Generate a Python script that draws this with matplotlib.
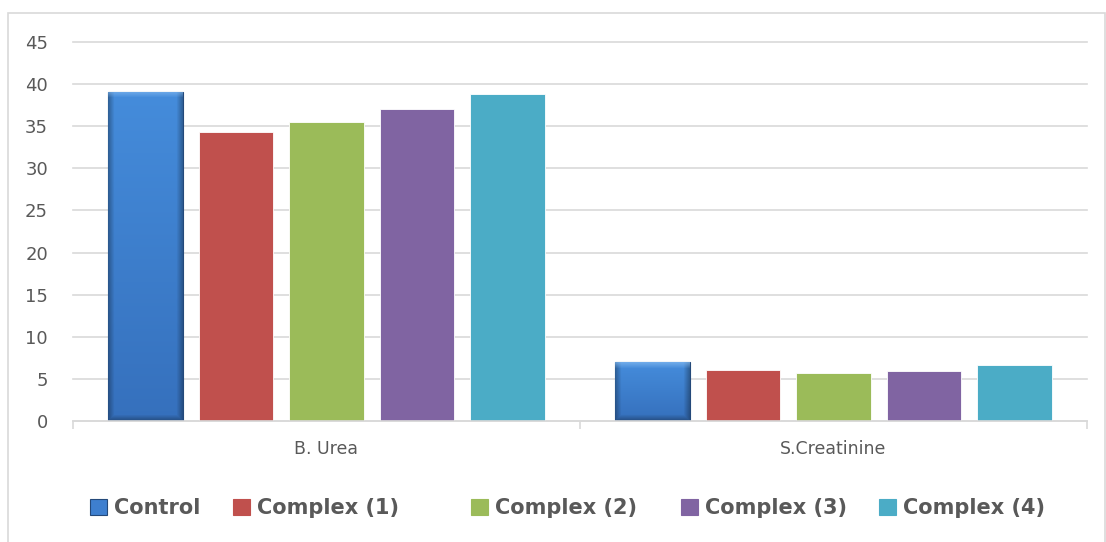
import numpy as np
import matplotlib.pyplot as plt
from matplotlib.patches import Patch, Rectangle

categories = ["B. Urea", "S.Creatinine"]
groups = ["Control", "Complex (1)", "Complex (2)", "Complex (3)", "Complex (4)"]
control = [39.1, 7.0]
complex_1 = [34.3, 6.1]
complex_2 = [35.5, 5.7]
complex_3 = [37.0, 5.9]
complex_4 = [38.8, 6.6]
yticks = [0, 5, 10, 15, 20, 25, 30, 35, 40, 45]

series = [control, complex_1, complex_2, complex_3, complex_4]
colors = ["#3E7FCF", "#C0504D", "#9BBB59", "#8064A2", "#4BACC6"]
text_grey = "#595959"
grid_grey = "#D9D9D9"

W, H = 1106, 542
fig = plt.figure(figsize=(W / 100, H / 100), dpi=100)
ax = fig.add_axes([73 / W, 1 - 421 / H, (1087 - 73) / W, (421 - 42) / H])

x = np.arange(len(categories))
step = 0.1785
width = 0.146


def bevel_image(w_px, h_px):
    # vertical shading from light top to darker bottom, darker sides, bright top rim
    yy, xx = np.mgrid[0:h_px, 0:w_px]
    t = yy / max(h_px - 1, 1)
    top = np.array([0.27, 0.55, 0.86])
    bot = np.array([0.21, 0.44, 0.74])
    img = top[None, None, :] * (1 - t[..., None]) + bot[None, None, :] * t[..., None]
    b = 6.0
    d_side = np.minimum(xx, w_px - 1 - xx)
    d_bottom = h_px - 1 - yy
    side = np.clip(1 - d_side / b, 0, 1)
    bottom = np.clip(1 - d_bottom / b, 0, 1)
    topr = np.clip(1 - yy / b, 0, 1)
    img = img * (1 - 0.3 * np.maximum(side, bottom)[..., None])
    light = np.array([0.55, 0.75, 0.95])
    img = img * (1 - 0.6 * topr[..., None]) + light * 0.6 * topr[..., None]
    return np.clip(img, 0, 1)


for i, (vals, col) in enumerate(zip(series, colors)):
    pos = x + (i - 2) * step
    if i == 0:
        bars = ax.bar(pos, vals, width, color=col, edgecolor="#24497A",
                      linewidth=0.8, zorder=3, label=groups[i])
        for bar, v in zip(bars, vals):
            x0 = bar.get_x()
            img = bevel_image(74, max(int(v * 8.42), 10))
            im = ax.imshow(img, extent=(x0, x0 + width, 0, v), aspect="auto",
                           origin="upper", zorder=3.5, interpolation="bilinear")
            im.set_clip_path(bar)
    else:
        ax.bar(pos, vals, width, color=col, edgecolor="white", linewidth=0.6,
               zorder=3, label=groups[i])

ax.set_xlim(-0.5, 1.5)
ax.set_ylim(0, 45)
ax.set_yticks(yticks)
ax.yaxis.grid(True, color=grid_grey, linewidth=1.2, zorder=0)
for gl in ax.get_ygridlines():
    gl.set_clip_on(False)
ax.set_axisbelow(True)
for side in ["top", "right", "left"]:
    ax.spines[side].set_visible(False)
ax.spines["bottom"].set_color(grid_grey)
ax.spines["bottom"].set_linewidth(1.2)
ax.spines["bottom"].set_zorder(4)

ax.set_xticks(x)
ax.set_xticklabels(categories)
ax.set_xticks([-0.5, 0.5, 1.5], minor=True)
ax.tick_params(axis="x", which="major", length=0, pad=14, labelsize=12.5,
               labelcolor=text_grey)
ax.tick_params(axis="x", which="minor", length=6, color=grid_grey, width=1.2)
ax.tick_params(axis="y", length=0, pad=18, labelsize=13, labelcolor=text_grey)

# outer chart border
fig.patches.append(Rectangle((8 / W, -0.01), (1105 - 8) / W, 1 - 13 / H + 0.01,
                             transform=fig.transFigure, fill=False,
                             edgecolor=grid_grey, linewidth=1.2))

# legend entries, placed one by one along the bottom
legend_x = [90, 233, 471, 681, 879]
for lx, g, col in zip(legend_x, groups, colors):
    handle = Patch(facecolor=col, edgecolor="#24497A" if g == "Control" else col,
                   linewidth=0.8)
    leg = fig.legend([handle], [g], loc="center left",
                     bbox_to_anchor=(lx / W, 1 - 508 / H), frameon=False,
                     borderpad=0, borderaxespad=0, handlelength=0.8,
                     handleheight=0.8, handletextpad=0.35,
                     prop={"weight": "bold", "size": 15})
    for t in leg.get_texts():
        t.set_color(text_grey)

fig.savefig("out.png", dpi=100)
